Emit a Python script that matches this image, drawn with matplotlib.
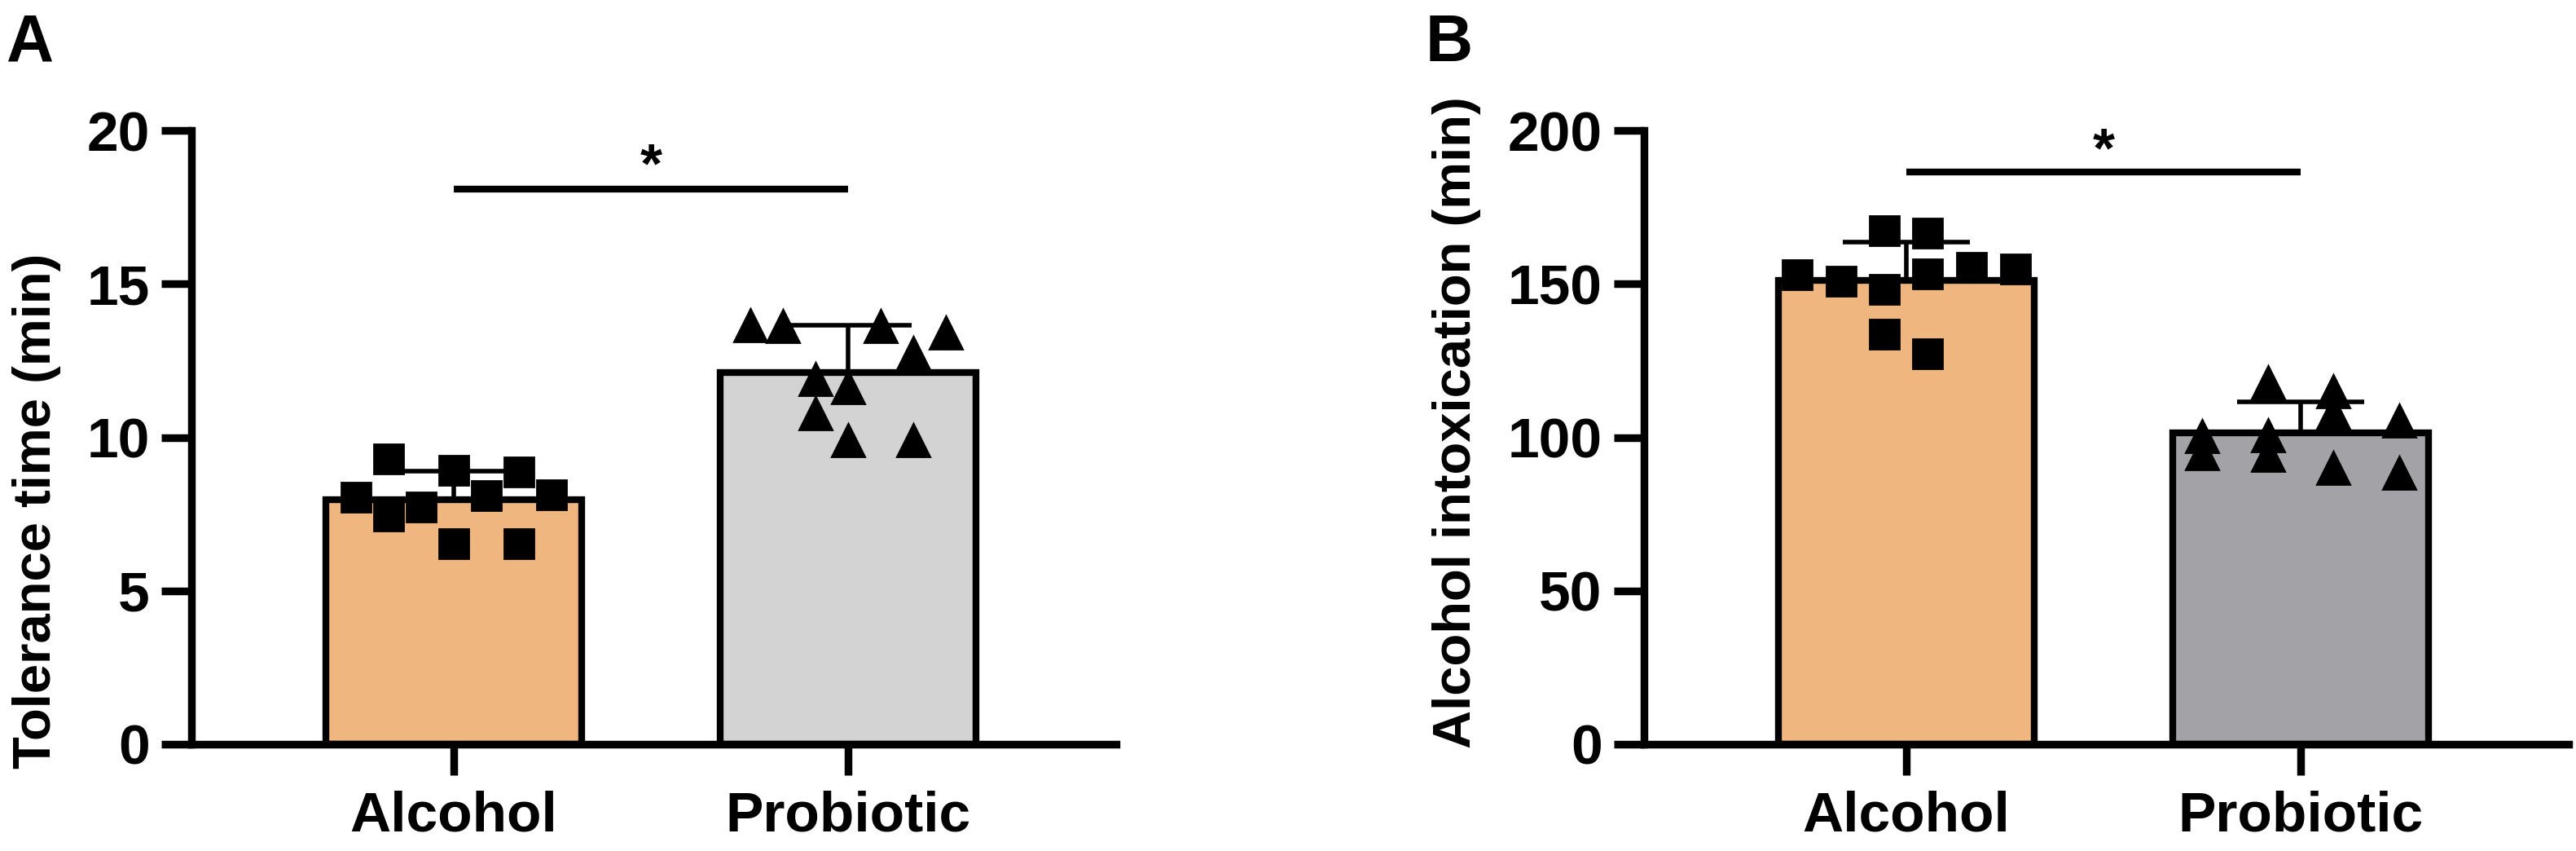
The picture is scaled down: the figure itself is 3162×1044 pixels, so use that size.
import numpy as np
import matplotlib
matplotlib.use("Agg")
import matplotlib.pyplot as plt

plt.rcParams['font.family'] = ['Liberation Sans', 'DejaVu Sans']
plt.rcParams['font.weight'] = 'bold'

# ---------------- data ----------------
categories = ["Alcohol", "Probiotic"]

# Panel A: Tolerance time (min)
tol_alcohol = [8.04, 9.29, 7.43, 7.73, 8.92, 6.53, 8.10, 8.87, 6.53, 8.12]
tol_probiotic = [13.66, 13.62, 11.89, 10.79, 11.63, 9.90, 13.62, 12.75, 9.90, 13.41]

# Panel B: Alcohol intoxication (min)
intox_alcohol = [153.1, 150.9, 167.4, 148.2, 133.7, 166.5, 153.3, 127.3, 155.3, 154.9]
intox_probiotic = [100.4, 94.8, 117.8, 100.6, 94.3, 115.0, 108.1, 90.1, 105.5, 88.5]

yticks_a = [0, 5, 10, 15, 20]
yticks_b = [0, 50, 100, 150, 200]

# layout: horizontal scatter offsets of the points (beeswarm-like)
off_a_alc = [-0.248, -0.165, -0.165, -0.083, 0.0, 0.0, 0.083, 0.165, 0.165, 0.248]
off_a_pro = [-0.248, -0.165, -0.083, -0.083, 0.0, 0.0, 0.083, 0.165, 0.165, 0.248]
off_b_alc = [-0.277, -0.165, -0.055, -0.055, -0.055, 0.055, 0.055, 0.055, 0.165, 0.277]
off_b_pro = [-0.25, -0.25, -0.083, -0.083, -0.083, 0.083, 0.083, 0.083, 0.25, 0.25]

orange = "#F0B67F"
lightgray = "#D3D3D3"
darkgray = "#A3A3A7"

W, H = 3162, 1044
DPI = 200
fig = plt.figure(figsize=(W / DPI, H / DPI), dpi=DPI)

SP_LW = 3.4
FS = 25
LFS = 23.5


def make_panel(rect, alc, pro, off_alc, off_pro, pro_color, yticks, ylabel,
               sig_y, star_y, label_x, label_y, letter, letter_x):
    ax = fig.add_axes(rect)
    x = np.arange(len(categories))
    groups = [np.array(alc), np.array(pro)]
    offs = [off_alc, off_pro]
    colors = [orange, pro_color]
    markers = ["s", "^"]
    msizes = [13.0, 14.5]
    for i, g in enumerate(groups):
        m = g.mean()
        sd = g.std(ddof=1)
        ax.bar(x[i], m, width=0.65, color=colors[i], edgecolor="black",
               linewidth=3.0, zorder=1)
        ax.errorbar(x[i], m, yerr=[[0], [sd]], fmt="none", ecolor="black",
                    elinewidth=2.0, capsize=28, capthick=2.0, zorder=2)
        ax.plot(x[i] + np.array(offs[i]), g, linestyle="none",
                marker=markers[i], markersize=msizes[i], color="black",
                zorder=3, clip_on=False)
    ax.set_xlim(-0.665, 1.68)
    ax.set_ylim(yticks[0], yticks[-1])
    ax.set_yticks(yticks)
    ax.set_xticks(x)
    ax.set_xticklabels(categories)
    for s in ["top", "right"]:
        ax.spines[s].set_visible(False)
    for s in ["left", "bottom"]:
        ax.spines[s].set_linewidth(SP_LW)
    ax.tick_params(axis="both", width=SP_LW, length=13.5, labelsize=FS)
    ax.tick_params(axis="y", pad=5)
    ax.tick_params(axis="x", pad=7)
    for t in ax.get_xticklabels() + ax.get_yticklabels():
        t.set_fontweight("bold")
    ax.set_ylabel(ylabel, fontsize=LFS, fontweight="bold")
    ax.yaxis.set_label_coords(label_x, label_y)
    # significance
    ax.plot([x[0], x[1]], [sig_y, sig_y], color="black", linewidth=3.0,
            solid_capstyle="butt", clip_on=False)
    ax.text((x[0] + x[1]) / 2, star_y, "*", ha="center", va="center",
            fontsize=FS, fontweight="bold")
    fig.text(letter_x, 0.985, letter, ha="left", va="top", fontsize=29,
             fontweight="bold")
    return ax


bottom = (H - 913) / H
height = 753 / H
make_panel([235 / W, bottom, 1135 / W, height], tol_alcohol, tol_probiotic,
           off_a_alc, off_a_pro, lightgray, yticks_a, "Tolerance time (min)",
           18.1, 18.8, -0.141, 0.38, "A", 8 / W)
make_panel([2018 / W, bottom, 1135 / W, height], intox_alcohol, intox_probiotic,
           off_b_alc, off_b_pro, darkgray, yticks_b, "Alcohol intoxication (min)",
           186.5, 193, -0.176, 0.525, "B", 1750 / W)

fig.savefig("out.png", dpi=DPI)
